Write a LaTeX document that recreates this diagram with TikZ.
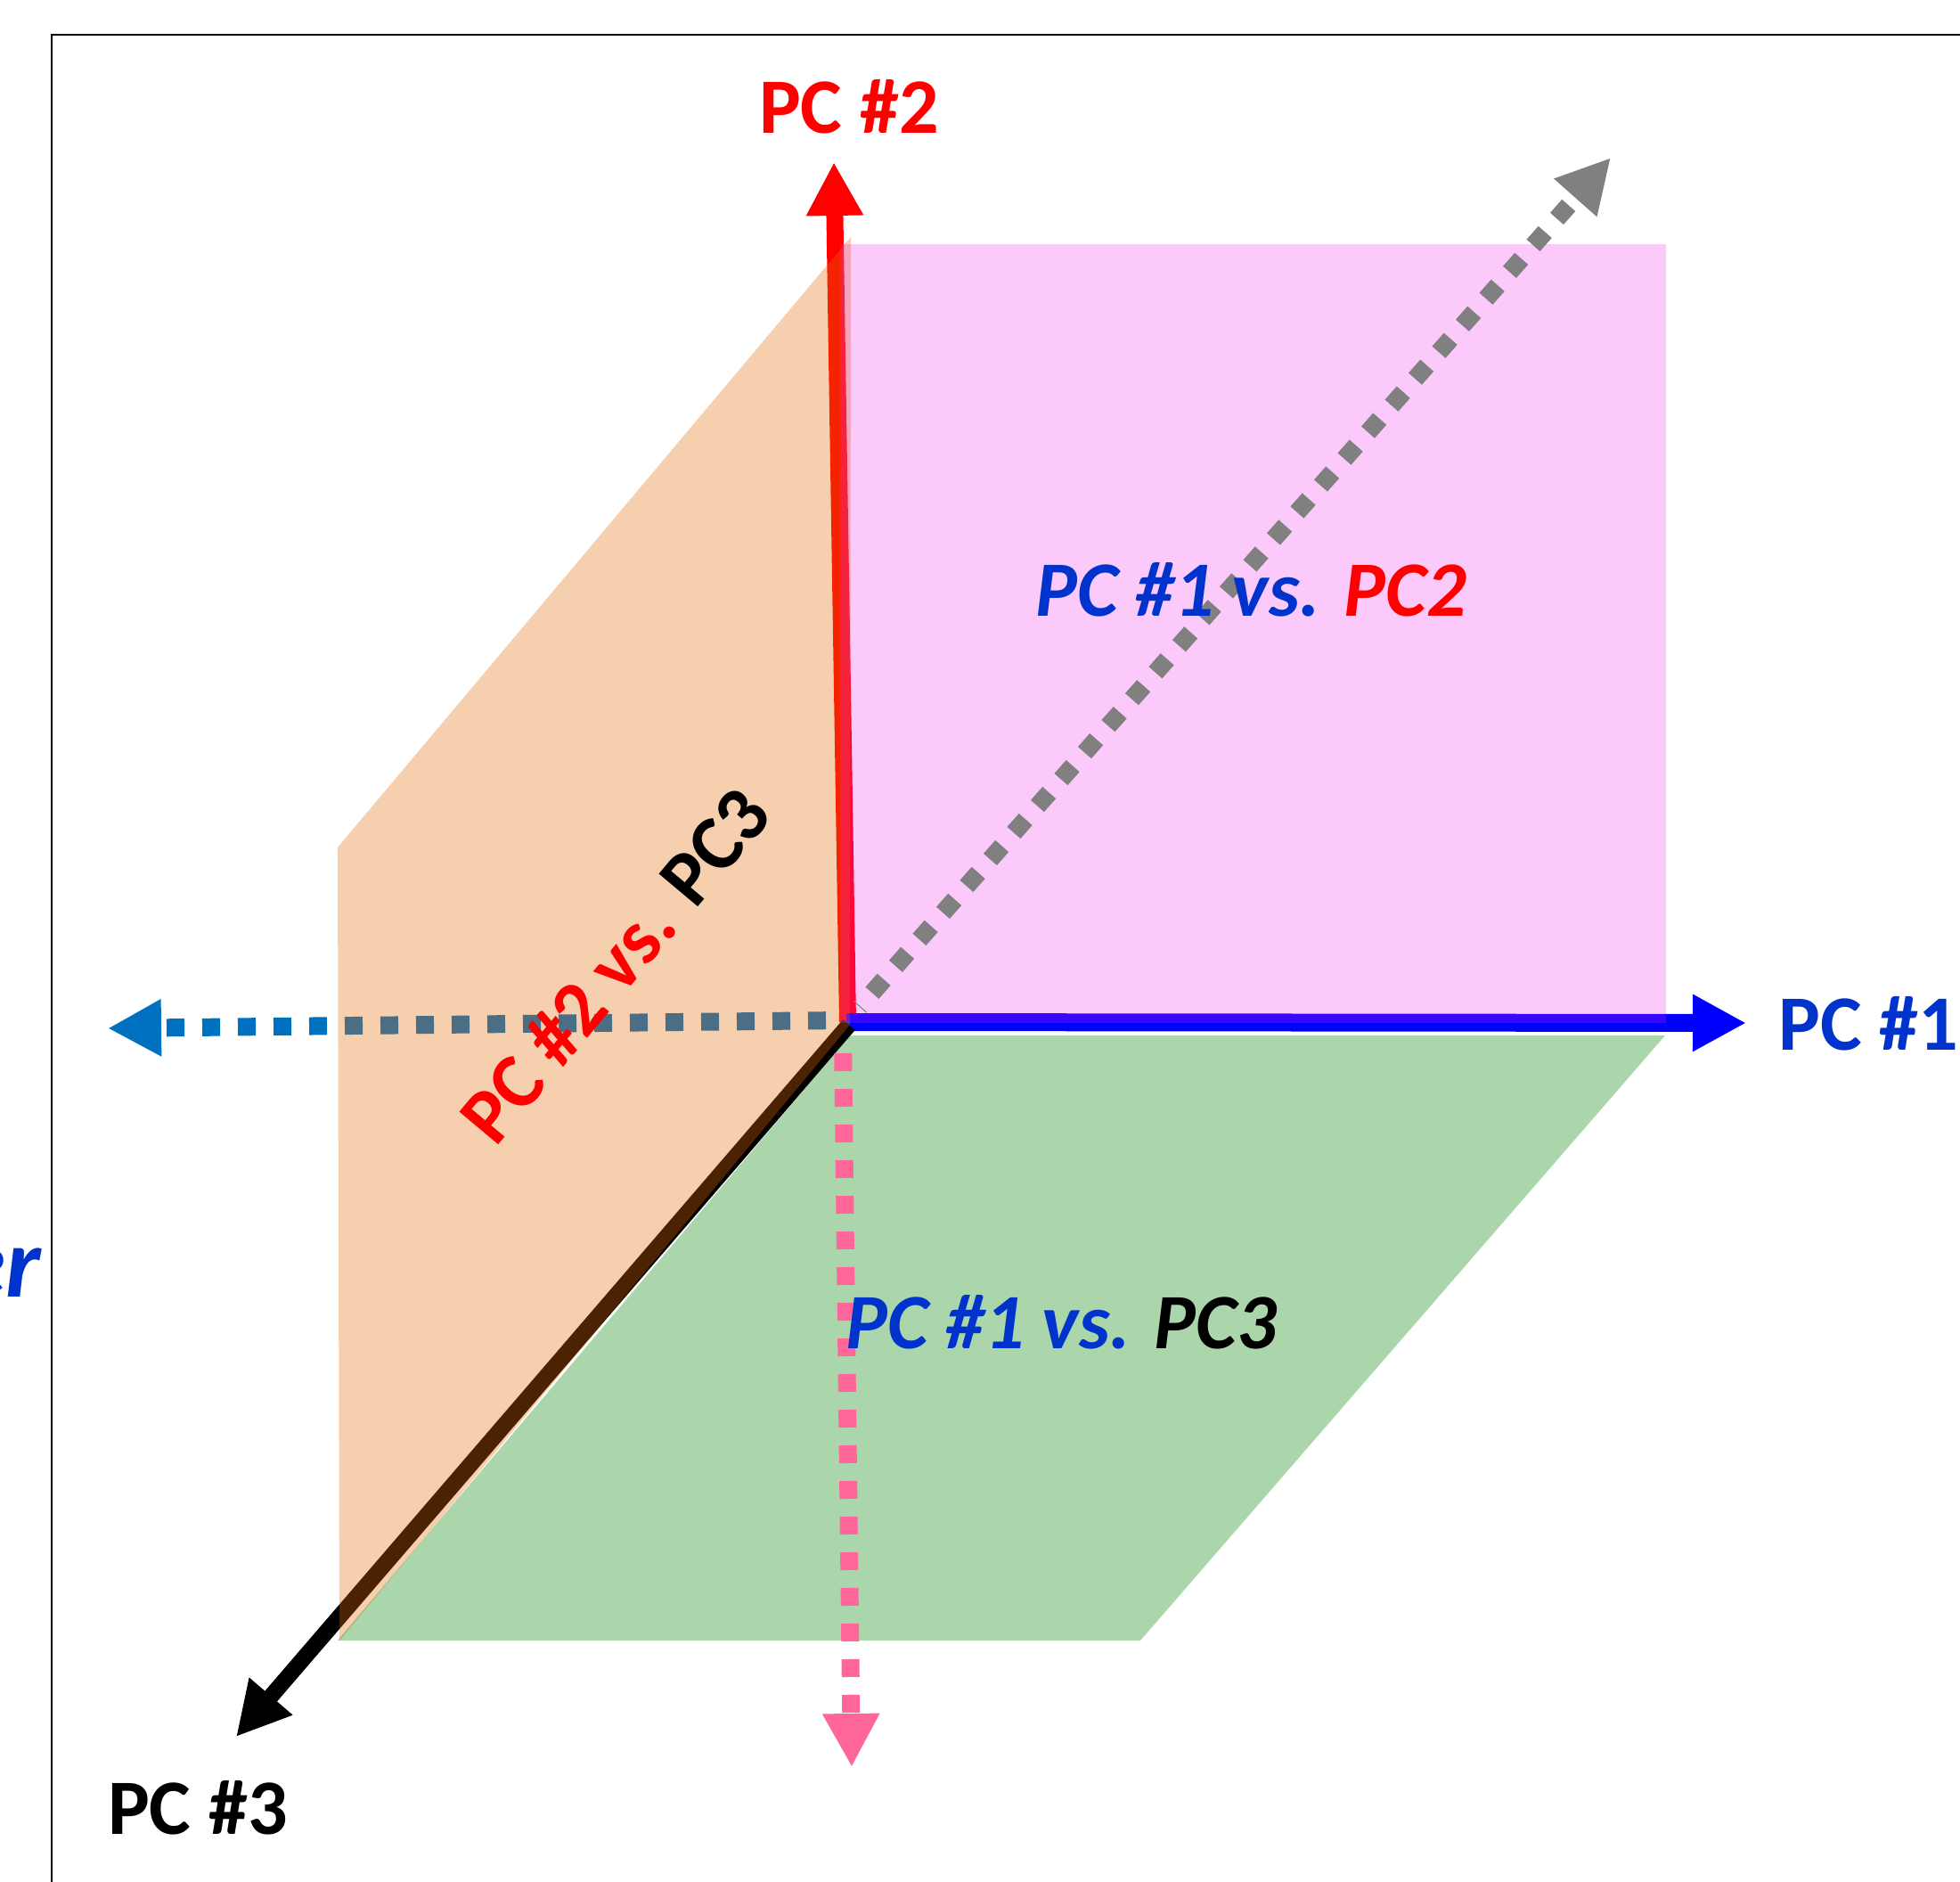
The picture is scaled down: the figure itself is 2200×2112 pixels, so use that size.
\documentclass[tikz,border=0pt]{standalone}
\usepackage{fontspec}
\setmainfont{Carlito}
\usetikzlibrary{arrows.meta}
\definecolor{txtblue}{HTML}{0033CC}
\definecolor{axred}{HTML}{FF0000}
\definecolor{axblue}{HTML}{0000FF}
\definecolor{dblue}{HTML}{0070C0}
\definecolor{dgray}{HTML}{808080}
\definecolor{dpink}{HTML}{FF6699}
\definecolor{plorange}{HTML}{E46C0A}
\definecolor{plpink}{HTML}{F020F0}
\definecolor{plgreen}{HTML}{008000}
\begin{document}
\begin{tikzpicture}[x=0.5pt,y=-0.5pt,
  tipstyle/.style={-{Triangle[length=30pt,width=30pt]}},
  axisline/.style={tipstyle,line width=10pt},
  dotline/.style={tipstyle,line width=10pt,dash pattern=on 10pt off 10pt},
  plane/.style={draw=none},
  lab/.style={inner sep=0pt,font=\fontsize{44pt}{50pt}\selectfont\bfseries},
  ilab/.style={inner sep=0pt,font=\fontsize{44pt}{50pt}\selectfont\bfseries\itshape}]
\useasboundingbox (0,0) rectangle (2200,2112);
\clip (0,0) rectangle (2200,2112);
% frame
\draw[line width=1.3pt] (2200,39) -- (58,39) -- (58,2112);
% coordinates
\coordinate (Ds) at (947,1145);
\coordinate (Dt) at (121,1154);
\coordinate (Rs) at (951.5,1147);
\coordinate (Rt) at (936,182);
\coordinate (Bs) at (950,1147);
\coordinate (Bt) at (1960,1148);
\coordinate (Ks) at (953,1150);
\coordinate (Kt) at (265,1949);
\coordinate (Gs) at (965,1130);
\coordinate (Gt) at (1808,177);
\coordinate (Ps) at (946,1162);
\coordinate (Pt) at (956,1983);
% lower arrows (under planes)
\draw[dotline,dblue,dash phase=10pt] (Ds) -- (Dt);
\draw[axisline,axred,line width=9.5pt] (Rs) -- (Rt);
\draw[axisline,axblue] (Bs) -- (Bt);
\draw[axisline,black,line width=9pt] (Ks) -- (Kt);
% planes
\fill[plane,plorange,opacity=0.33] (955,266) -- (379,951) -- (381,1841) -- (954,1150) -- cycle;
\fill[plane,plpink,opacity=0.24] (943,274) rectangle (1870,1148);
\fill[plane,plgreen,opacity=0.33] (954,1162) -- (1869,1162) -- (1280,1841) -- (379,1841) -- cycle;
% upper dotted arrows
\draw[dotline,dgray,dash phase=9.5pt] (Gs) -- (Gt);
\draw[dotline,dpink,dash phase=10pt] (Ps) -- (Pt);
% labels
\node[lab,axred,anchor=base] (L2) at (953,150) {PC \#2};
\node[lab,txtblue,anchor=base west] (L1) at (1996,1178) {PC \#1};
\node[lab,black,anchor=base] (L3) at (222,2058) {PC \#3};
\node[ilab,anchor=base] (P12) at (1404,692) {\textcolor{txtblue}{PC \#1 vs.} \textcolor{axred}{PC2}};
\node[ilab,anchor=base] (P13) at (1191,1513) {\textcolor{txtblue}{PC \#1 vs.} \textcolor{black}{PC3}};
\node[lab,rotate=50] (P23) at (690,1083) {\textcolor{axred}{PC \#2 vs.} \textcolor{black}{PC3}};
\node[inner sep=0pt,anchor=base east,txtblue,font=\fontsize{56pt}{60pt}\selectfont\bfseries\itshape] (ER) at (46,1455) {er};
\end{tikzpicture}
\end{document}
